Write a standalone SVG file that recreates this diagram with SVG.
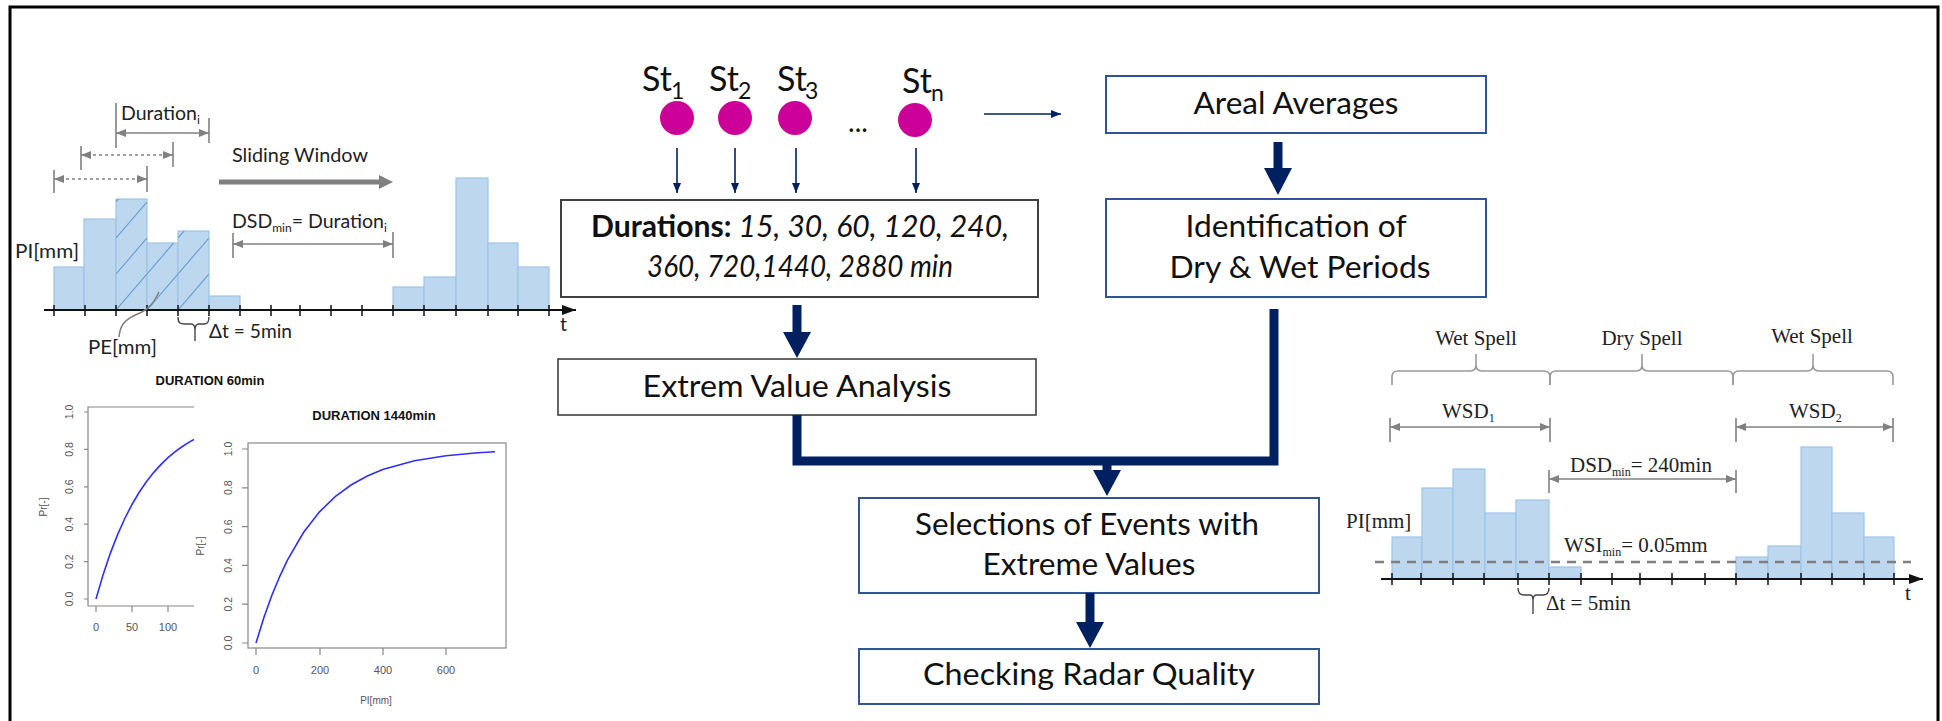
<svg xmlns="http://www.w3.org/2000/svg" width="1942" height="721" viewBox="0 0 1942 721">
<defs>
<style>
.lb{font-family:Lato,'Liberation Sans',sans-serif;fill:#111}
.big{font-size:30px}
.sm{font-family:Lato,'Liberation Sans',sans-serif;font-size:19.5px;fill:#222}
.ser{font-family:'Liberation Serif',serif;font-size:21px;fill:#222}
.rl{font-family:'Liberation Sans',Arial,sans-serif;font-size:10.5px;fill:#555}
.rt{font-family:'Liberation Sans',Arial,sans-serif;font-size:13px;font-weight:bold;fill:#111}
.bar{fill:#BDD7EE;stroke:#9DC3E6;stroke-width:1.2}
.tick{stroke:#111;stroke-width:1.5}
.dim{stroke:#808080;stroke-width:1.6;fill:none}
.brace{stroke:#999;stroke-width:1.6;fill:none}
.plot{stroke:#888;stroke-width:1.2;fill:none}
.curve{stroke:#3030F0;stroke-width:1.6;fill:none}
.boxK{fill:#fff;stroke:#404040;stroke-width:2}
.boxB{fill:#fff;stroke:#2F5597;stroke-width:2}
.thin{stroke:#002060;stroke-width:1.6;fill:none}
.thick{fill:#002060}
.dot{fill:#CC0099}
</style>
<marker id="nav" viewBox="0 0 10 8" refX="10" refY="4" markerWidth="10" markerHeight="8" markerUnits="userSpaceOnUse" orient="auto"><path d="M0,0 L10,4 L0,8 z" fill="#002060"/></marker>
<marker id="gr" viewBox="0 0 10 8" refX="10" refY="4" markerWidth="10" markerHeight="8" markerUnits="userSpaceOnUse" orient="auto-start-reverse"><path d="M0,0 L10,4 L0,8 z" fill="#808080"/></marker>
<marker id="bk" viewBox="0 0 14 10" refX="14" refY="5" markerWidth="14" markerHeight="10" markerUnits="userSpaceOnUse" orient="auto"><path d="M0,0 L14,5 L0,10 z" fill="#111"/></marker>
<pattern id="hatch" patternUnits="userSpaceOnUse" x="116" y="310" width="31" height="36"><path d="M0,36 L31,0" stroke="#5B9BD5" stroke-width="1.1"/></pattern>
</defs>

<rect width="1942" height="721" fill="#fff"/>
<path d="M10,730 V7 H1938 V730" fill="none" stroke="#000" stroke-width="3"/>

<!-- Left sliding window chart -->
<g id="sliding-window-chart">
<rect class="bar" x="54" y="267" width="30" height="43"/>
<rect class="bar" x="84" y="219" width="32" height="91"/>
<rect class="bar" x="116" y="199" width="31" height="111"/>
<rect class="bar" x="147" y="243" width="31" height="67"/>
<rect class="bar" x="178" y="231" width="31" height="79"/>
<rect class="bar" x="209" y="296" width="31" height="14"/>
<rect x="116" y="199" width="31" height="111" fill="url(#hatch)"/>
<rect x="147" y="243" width="31" height="67" fill="url(#hatch)"/>
<rect x="178" y="231" width="31" height="79" fill="url(#hatch)"/>
<rect class="bar" x="393" y="287" width="31" height="23"/>
<rect class="bar" x="424" y="277" width="32" height="33"/>
<rect class="bar" x="456" y="178" width="32" height="132"/>
<rect class="bar" x="488" y="243" width="30" height="67"/>
<rect class="bar" x="518" y="267" width="31" height="43"/>
<line x1="44" y1="310" x2="576" y2="310" stroke="#111" stroke-width="1.8" marker-end="url(#bk)"/>
<path class="tick" d="M54,305V316M85,305V316M116,305V316M147,305V316M178,305V316M209,305V316M240,305V316M271,305V316M300,305V316M331,305V316M362,305V316M393,305V316M424,305V316M456,305V316M488,305V316M518,305V316M549,305V316"/>
<text class="sm" x="560" y="331">t</text>
<text class="sm" x="15" y="258" textLength="64" lengthAdjust="spacingAndGlyphs">PI[mm]</text>
<text class="sm" x="88" y="354" textLength="69" lengthAdjust="spacingAndGlyphs">PE[mm]</text>
<path d="M159,292 C154,302 150,308 142,312 C128,318 120,322 119,337" stroke="#808080" stroke-width="1.5" fill="none"/>
<path d="M178,317 C178,323 180,324 185,324 H191 C194,324 195,326 195,330 V341 M195,330 C195,326 196,324 199,324 H204 C207,324 209,323 209,317" stroke="#444" stroke-width="1.4" fill="none"/>
<text class="sm" x="209" y="338" font-size="18" textLength="83" lengthAdjust="spacingAndGlyphs">Δt = 5min</text>
<text class="sm" x="121" y="120">Duration<tspan font-size="12" dy="4">i</tspan></text>
<line class="dim" x1="116" y1="133" x2="209" y2="133" marker-start="url(#gr)" marker-end="url(#gr)"/>
<path class="dim" d="M116,103V148M209,118V143"/>
<line class="dim" x1="81" y1="155" x2="173" y2="155" stroke-dasharray="3 3" marker-start="url(#gr)" marker-end="url(#gr)"/>
<path class="dim" d="M81,146V170M173,142V167"/>
<line class="dim" x1="54" y1="179" x2="147" y2="179" stroke-dasharray="3 3" marker-start="url(#gr)" marker-end="url(#gr)"/>
<path class="dim" d="M54,170V193M147,166V192"/>
<line x1="219" y1="182" x2="381" y2="182" stroke="#808080" stroke-width="5"/>
<polygon points="379,175 393,182 379,189" fill="#808080"/>
<text class="sm" x="232" y="162" textLength="136" lengthAdjust="spacingAndGlyphs">Sliding Window</text>
<text class="sm" x="232" y="228">DSD<tspan font-size="12" dy="4">min</tspan><tspan dy="-4">= Duration</tspan><tspan font-size="12" dy="4">i</tspan></text>
<line class="dim" x1="233" y1="244" x2="393" y2="244" marker-start="url(#gr)" marker-end="url(#gr)"/>
<path class="dim" d="M233,233V258M393,232V258"/>
</g>

<!-- R plot 60 min -->
<g id="plot-60min">
<text class="rt" x="210" y="385" text-anchor="middle">DURATION 60min</text>
<path class="plot" d="M194,407 H88 V606 H194"/>
<path class="plot" d="M84,599H88M84,561.6H88M84,524.2H88M84,486.8H88M84,449.4H88M84,412H88"/>
<path class="plot" d="M96,606V612M132,606V612M168,606V612"/>
<g class="rl" text-anchor="middle">
<text transform="translate(73,599) rotate(-90)">0.0</text>
<text transform="translate(73,561.6) rotate(-90)">0.2</text>
<text transform="translate(73,524.2) rotate(-90)">0.4</text>
<text transform="translate(73,486.8) rotate(-90)">0.6</text>
<text transform="translate(73,449.4) rotate(-90)">0.8</text>
<text transform="translate(73,412) rotate(-90)">1.0</text>
<text transform="translate(47,507) rotate(-90)" font-size="10">Pr[-]</text>
<text x="96" y="631" font-size="11">0</text>
<text x="132" y="631" font-size="11">50</text>
<text x="168" y="631" font-size="11">100</text>
</g>
<polyline class="curve" points="96,599 103.2,574.4 110.4,553.1 117.6,534.6 124.8,518.5 132,504.5 139.2,492.3 146.4,481.8 153.6,472.6 160.8,464.6 168,457.7 175.2,451.7 182.4,446.5 189.6,441.9 193.9,439.5"/>
</g>

<!-- R plot 1440 min -->
<g id="plot-1440min">
<text class="rt" x="374" y="420" text-anchor="middle">DURATION 1440min</text>
<rect class="plot" x="248" y="443" width="258" height="205"/>
<path class="plot" d="M242,643H248M242,604.2H248M242,565.4H248M242,526.6H248M242,487.8H248M242,449H248"/>
<path class="plot" d="M256,648V655M320,648V655M383,648V655M446,648V655"/>
<g class="rl" text-anchor="middle">
<text transform="translate(232,643) rotate(-90)">0.0</text>
<text transform="translate(232,604.2) rotate(-90)">0.2</text>
<text transform="translate(232,565.4) rotate(-90)">0.4</text>
<text transform="translate(232,526.6) rotate(-90)">0.6</text>
<text transform="translate(232,487.8) rotate(-90)">0.8</text>
<text transform="translate(232,449) rotate(-90)">1.0</text>
<text transform="translate(204,546) rotate(-90)" font-size="10">Pr[-]</text>
<text x="256" y="674" font-size="11">0</text>
<text x="320" y="674" font-size="11">200</text>
<text x="383" y="674" font-size="11">400</text>
<text x="446" y="674" font-size="11">600</text>
<text x="376" y="704" font-size="10">PI[mm]</text>
</g>
<polyline class="curve" points="256,643 263.9,617.6 271.8,595.5 279.8,576.3 287.7,559.6 303.5,532.5 319.3,512.1 335.2,496.6 351,485 366.8,476.2 382.7,469.5 414.4,460.7 446,455.7 477.7,452.8 495.1,451.8"/>
</g>

<!-- Stations -->
<g id="node-st1"><text class="lb" x="642" y="91" font-size="34">St<tspan font-size="23" x="671" dy="8">1</tspan></text><circle class="dot" cx="677" cy="118" r="17"/></g>
<g id="node-st2"><text class="lb" x="709" y="91" font-size="34">St<tspan font-size="23" x="738" dy="8">2</tspan></text><circle class="dot" cx="735" cy="118" r="17"/></g>
<g id="node-st3"><text class="lb" x="777" y="91" font-size="34">St<tspan font-size="23" x="805" dy="8">3</tspan></text><circle class="dot" cx="795" cy="118" r="17"/></g>
<g id="node-dots"><text class="lb" x="858" y="132" font-size="28" text-anchor="middle">...</text></g>
<g id="node-stn"><text class="lb" x="902" y="93" font-size="34">St<tspan font-size="23" x="931" dy="8">n</tspan></text><circle class="dot" cx="915" cy="120" r="17"/></g>

<!-- Boxes -->
<g id="node-durations">
<rect class="boxK" x="561" y="200" width="477" height="97"/>
<text class="lb big" x="591" y="237" textLength="418" lengthAdjust="spacingAndGlyphs"><tspan font-weight="bold">Durations:</tspan><tspan font-style="italic"> 15, 30, 60, 120, 240,</tspan></text>
<text class="lb big" x="647" y="277" font-style="italic" textLength="306" lengthAdjust="spacingAndGlyphs">360, 720,1440, 2880 min</text>
</g>
<g id="node-areal">
<rect class="boxB" x="1106" y="76" width="380" height="57"/>
<text class="lb big" x="1296" y="114" text-anchor="middle" textLength="205" lengthAdjust="spacingAndGlyphs">Areal Averages</text>
</g>
<g id="node-identification">
<rect class="boxB" x="1106" y="199" width="380" height="98"/>
<text class="lb big" x="1296" y="237" text-anchor="middle" textLength="221" lengthAdjust="spacingAndGlyphs">Identification of</text>
<text class="lb big" x="1300" y="278" text-anchor="middle" textLength="261" lengthAdjust="spacingAndGlyphs">Dry &amp; Wet Periods</text>
</g>
<g id="node-eva">
<rect x="558" y="359" width="478" height="56" fill="#fff" stroke="#404040" stroke-width="1.6"/>
<text class="lb big" x="797" y="397" text-anchor="middle" textLength="309" lengthAdjust="spacingAndGlyphs">Extrem Value Analysis</text>
</g>
<g id="node-selections">
<rect class="boxB" x="859" y="498" width="460" height="95"/>
<text class="lb big" x="1087" y="535" text-anchor="middle" textLength="344" lengthAdjust="spacingAndGlyphs">Selections of Events with</text>
<text class="lb big" x="1089" y="575" text-anchor="middle" textLength="213" lengthAdjust="spacingAndGlyphs">Extreme Values</text>
</g>
<g id="node-checking">
<rect class="boxB" x="859" y="649" width="460" height="55"/>
<text class="lb big" x="1089" y="685" text-anchor="middle" textLength="332" lengthAdjust="spacingAndGlyphs">Checking Radar Quality</text>
</g>

<!-- Connectors -->
<g id="connectors">
<line class="thin" x1="677" y1="148" x2="677" y2="193" marker-end="url(#nav)"/>
<line class="thin" x1="735" y1="148" x2="735" y2="193" marker-end="url(#nav)"/>
<line class="thin" x1="796" y1="148" x2="796" y2="193" marker-end="url(#nav)"/>
<line class="thin" x1="916" y1="148" x2="916" y2="193" marker-end="url(#nav)"/>
<line class="thin" x1="984" y1="114" x2="1061" y2="114" marker-end="url(#nav)"/>
<polygon class="thick" points="792.5,305 801.5,305 801.5,332 811,332 797,358 783,332 792.5,332"/>
<polygon class="thick" points="1273.5,142 1282.5,142 1282.5,168 1292,168 1278,195 1264,168 1273.5,168"/>
<path d="M797,415 V461 H1274 V309" fill="none" stroke="#002060" stroke-width="9"/>
<polygon class="thick" points="1102.5,461 1111.5,461 1111.5,470 1121,470 1107,496 1093,470 1102.5,470"/>
<polygon class="thick" points="1085.5,593 1094.5,593 1094.5,622 1104,622 1090,648 1076,622 1085.5,622"/>
</g>

<!-- Right wet/dry spell chart -->
<g id="spell-chart">
<text class="ser" x="1476" y="345" text-anchor="middle">Wet Spell</text>
<text class="ser" x="1642" y="345" text-anchor="middle">Dry Spell</text>
<text class="ser" x="1812" y="343" text-anchor="middle">Wet Spell</text>
<path class="brace" d="M1392,385 V377 Q1392,371 1398,371 H1470 Q1476,371 1476,365 V354 M1476,365 Q1476,371 1482,371 H1544 Q1550,371 1550,377 V385"/>
<path class="brace" d="M1550,385 V377 Q1550,371 1556,371 H1636 Q1642,371 1642,365 V354 M1642,365 Q1642,371 1648,371 H1727 Q1733,371 1733,377 V385"/>
<path class="brace" d="M1733,385 V377 Q1733,371 1739,371 H1807 Q1813,371 1813,365 V354 M1813,365 Q1813,371 1819,371 H1887 Q1893,371 1893,377 V385"/>
<text class="ser" x="1442" y="418">WSD<tspan font-size="12" dy="4">1</tspan></text>
<line class="dim" x1="1390" y1="427" x2="1550" y2="427" marker-start="url(#gr)" marker-end="url(#gr)"/>
<path class="dim" d="M1390,418V442M1550,418V442"/>
<text class="ser" x="1789" y="418">WSD<tspan font-size="12" dy="4">2</tspan></text>
<line class="dim" x1="1736" y1="427" x2="1893" y2="427" marker-start="url(#gr)" marker-end="url(#gr)"/>
<path class="dim" d="M1736,418V442M1893,418V442"/>
<text class="ser" x="1570" y="472">DSD<tspan font-size="12" dy="4">min</tspan><tspan dy="-4">= 240min</tspan></text>
<line class="dim" x1="1549" y1="479" x2="1736" y2="479" marker-start="url(#gr)" marker-end="url(#gr)"/>
<path class="dim" d="M1549,470V493M1736,470V493"/>
<text class="ser" x="1346" y="528">PI[mm]</text>
<rect class="bar" x="1392" y="537" width="30" height="42"/>
<rect class="bar" x="1422" y="488" width="31" height="91"/>
<rect class="bar" x="1453" y="469" width="32" height="110"/>
<rect class="bar" x="1485" y="513" width="31" height="66"/>
<rect class="bar" x="1516" y="500" width="33" height="79"/>
<rect class="bar" x="1549" y="567" width="32" height="12"/>
<rect class="bar" x="1736" y="557" width="32" height="22"/>
<rect class="bar" x="1768" y="546" width="33" height="33"/>
<rect class="bar" x="1801" y="447" width="31" height="132"/>
<rect class="bar" x="1832" y="513" width="32" height="66"/>
<rect class="bar" x="1864" y="537" width="30" height="42"/>
<text class="ser" x="1564" y="552">WSI<tspan font-size="12" dy="4">min</tspan><tspan dy="-4">= 0.05mm</tspan></text>
<line x1="1375" y1="562" x2="1911" y2="562" stroke="#7F7F7F" stroke-width="2.5" stroke-dasharray="9 7"/>
<line x1="1381" y1="579" x2="1923" y2="579" stroke="#111" stroke-width="1.8" marker-end="url(#bk)"/>
<path class="tick" d="M1392,573V585M1421,573V585M1453,573V585M1484,573V585M1518,573V585M1549,573V585M1581,573V585M1612,573V585M1640,573V585M1672,573V585M1705,573V585M1736,573V585M1768,573V585M1801,573V585M1832,573V585M1864,573V585M1894,573V585"/>
<text class="ser" x="1905" y="600">t</text>
<path d="M1518,588 C1518,593 1520,595 1524,595 H1530 C1532,595 1533,597 1533,600 V614 M1533,600 C1533,597 1534,595 1537,595 H1543 C1547,595 1549,593 1549,588" stroke="#444" stroke-width="1.4" fill="none"/>
<text class="ser" x="1546" y="610" font-size="19">Δt = 5min</text>
</g>
</svg>
